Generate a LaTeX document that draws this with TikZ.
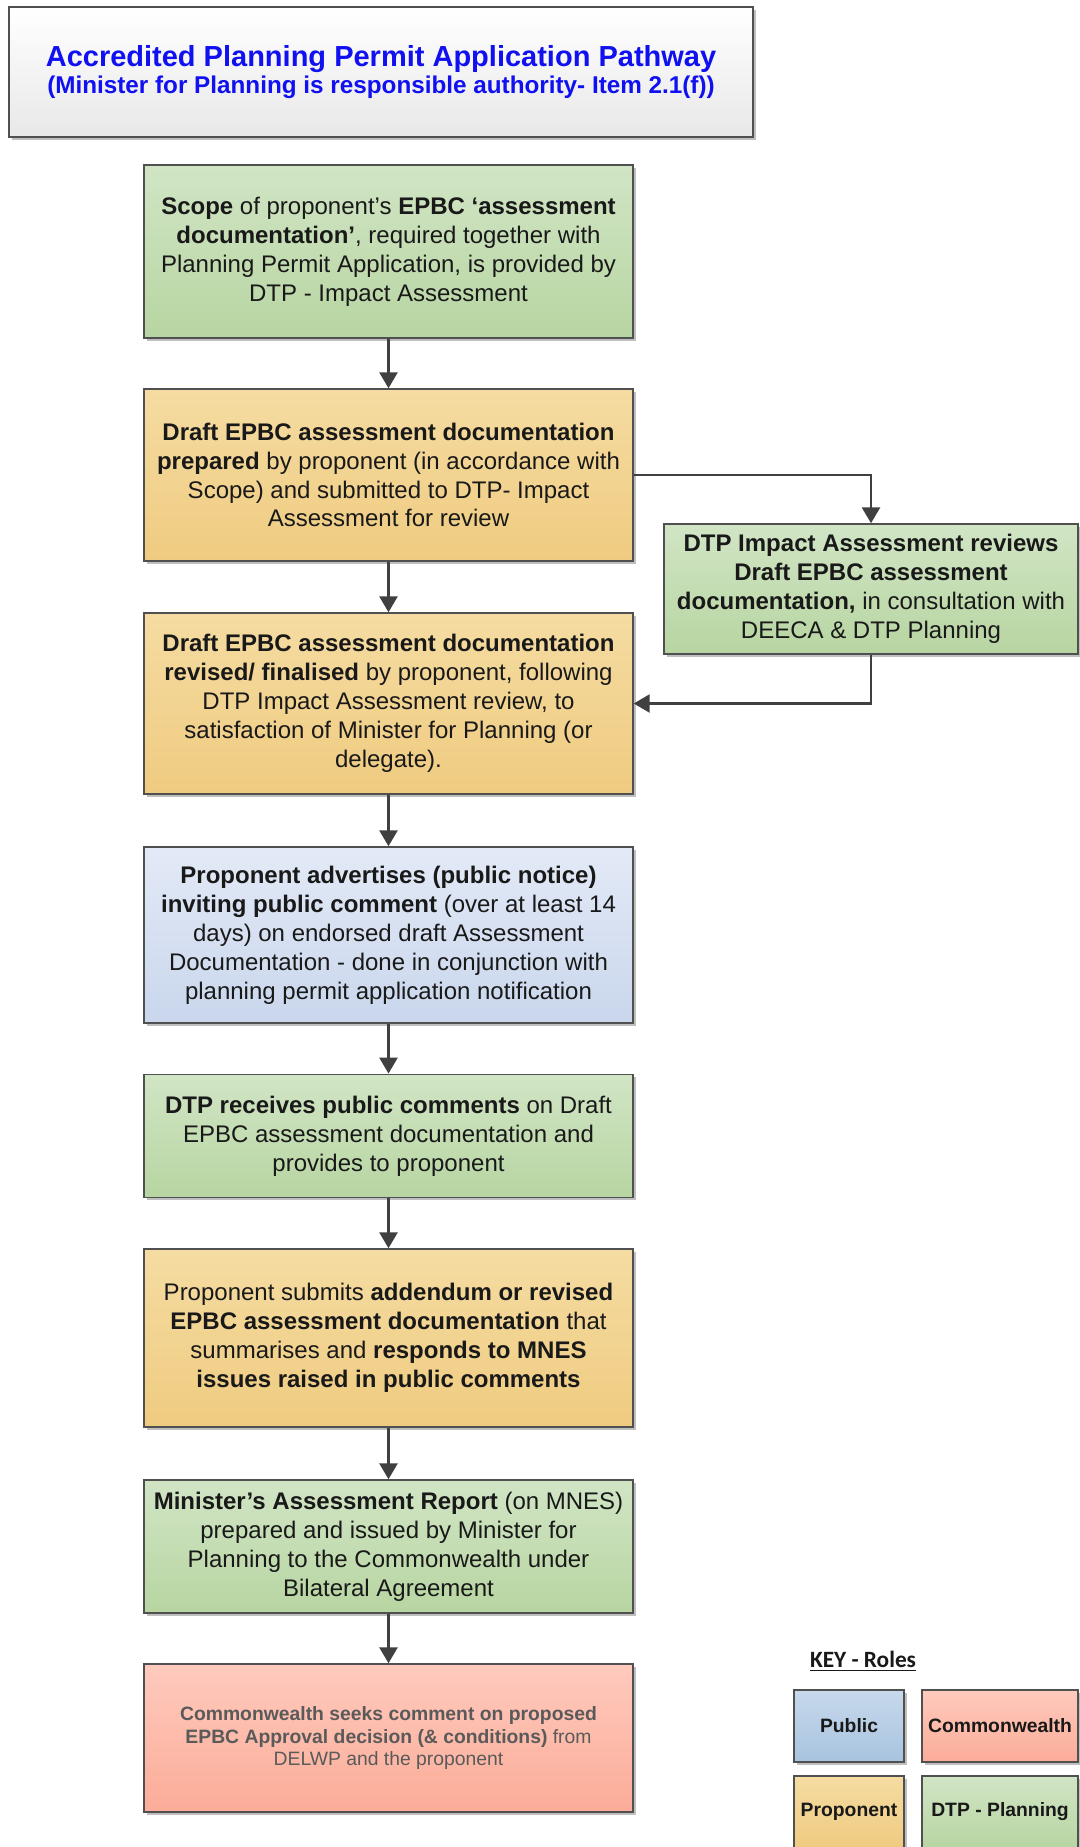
\documentclass[tikz,border=0pt]{standalone}
\usepackage{fontspec}
\setmainfont{Liberation Sans}
\newfontfamily\keyfont{Carlito}
\usepackage{tikz}
\usetikzlibrary{arrows.meta,shadows}
\definecolor{greentop}{HTML}{D1E5C5}
\definecolor{greenbot}{HTML}{B7D5A1}
\definecolor{orangetop}{HTML}{F5DCA2}
\definecolor{orangebot}{HTML}{EFCB80}
\definecolor{bluetop}{HTML}{E3EAF7}
\definecolor{bluebot}{HTML}{C9D6EC}
\definecolor{keybluetop}{HTML}{C7D9EB}
\definecolor{keybluebot}{HTML}{A8C3DF}
\definecolor{redtop}{HTML}{FFCABD}
\definecolor{redbot}{HTML}{FBAC98}
\definecolor{edge}{HTML}{505050}
\definecolor{arrowgrey}{HTML}{404040}
\definecolor{titleblue}{HTML}{1010F0}
\definecolor{cwtext}{HTML}{5A5A5A}
\tikzset{shade/.style={drop shadow={shadow xshift=2pt,shadow yshift=-2pt,fill=black,opacity=.25}},
  box/.style={draw=edge,line width=1.1pt,align=center,inner sep=1pt,minimum width=366.75pt,
    text=black!90,font=\fontsize{18}{21.7}\selectfont,shade},
  dtp/.style={box,top color=greentop,bottom color=greenbot},
  prop/.style={box,top color=orangetop,bottom color=orangebot},
  pub/.style={box,top color=bluetop,bottom color=bluebot},
  cw/.style={box,top color=redtop,bottom color=redbot},
  keybox/.style={draw=edge,line width=1.1pt,minimum height=54pt,inner sep=1pt,
    text=black!90,font=\fontsize{14.5}{17}\selectfont\bfseries,shade},
  flow/.style={draw=arrowgrey,line width=2.1pt,-{Triangle[width=13.5pt,length=12pt]}}}
\begin{document}
\begin{tikzpicture}[x=0.75pt,y=-0.75pt]
                \useasboundingbox[fill=white] (0,0) rectangle (1080,1847);
                \node[draw=edge,line width=1.1pt,top color=white,bottom color=black!9,shade,
                    minimum width=558pt,minimum height=97.5pt,align=center,text=titleblue,
                    font=\fontsize{18.2}{19.9}\selectfont\bfseries] (title) at (381,72)
                    {{\fontsize{21.75}{19.9}\selectfont Accredited Planning Permit Application Pathway}\\
                     (Minister for Planning is responsible authority- Item 2.1(f))};
                \node[dtp,minimum height=129.75pt] (scope) at (388.5,251.5)
                    {\textbf{Scope} of proponent’s \textbf{EPBC ‘assessment}\\
                     \textbf{documentation’}, required together with\\
                     Planning Permit Application, is provided by\\
                     DTP - Impact Assessment};
                \node[prop,minimum height=129pt] (draft) at (388.5,475)
                    {\textbf{Draft EPBC assessment documentation}\\
                     \textbf{prepared} by proponent (in accordance with\\
                     Scope) and submitted to DTP- Impact\\
                     Assessment for review};
                \node[dtp,minimum width=310.5pt,minimum height=97.5pt] (review) at (871,589)
                    {\textbf{DTP Impact Assessment reviews}\\
                     \textbf{Draft EPBC assessment}\\
                     \textbf{documentation,} in consultation with\\
                     DEECA \& DTP Planning};
                \node[prop,minimum height=135.75pt] (revised) at (388.5,703.5)
                    {\textbf{Draft EPBC assessment documentation}\\
                     \textbf{revised/ finalised} by proponent, following\\
                     DTP Impact Assessment review, to\\
                     satisfaction of Minister for Planning (or\\
                     delegate).};
                \node[pub,minimum height=132pt] (advert) at (388.5,935)
                    {\textbf{Proponent advertises (public notice)}\\
                     \textbf{inviting public comment} (over at least 14\\
                     days) on endorsed draft Assessment\\
                     Documentation - done in conjunction with\\
                     planning permit application notification};
                \node[dtp,minimum height=92.6pt] (receive) at (388.5,1136)
                    {\textbf{DTP receives public comments} on Draft\\
                     EPBC assessment documentation and\\
                     provides to proponent};
                \node[prop,minimum height=133.5pt] (addendum) at (388.5,1338)
                    {Proponent submits \textbf{addendum or revised}\\
                     \textbf{EPBC assessment documentation} that\\
                     summarises and \textbf{responds to MNES}\\
                     \textbf{issues raised in public comments}};
                \node[dtp,minimum height=99.75pt] (report) at (388.5,1546.5)
                    {\textbf{Minister’s Assessment Report} (on MNES)\\
                     prepared and issued by Minister for\\
                     Planning to the Commonwealth under\\
                     Bilateral Agreement};
                \node[cw,minimum height=111pt,text=cwtext,font=\fontsize{14.5}{16.9}\selectfont] (cwlth) at (388.5,1738)
                    {\textbf{Commonwealth seeks comment on proposed}\\
                     \textbf{EPBC Approval decision (\& conditions)} from\\
                     DELWP and the proponent};
                \draw[flow] (scope) -- (draft);
                \draw[flow] (draft) -- (revised);
                \draw[flow] (draft.east) -| (review.north);
                \draw[flow] (review.south) |- (revised.east);
                \draw[flow] (revised) -- (advert);
                \draw[flow] (advert) -- (receive);
                \draw[flow] (receive) -- (addendum);
                \draw[flow] (addendum) -- (report);
                \draw[flow] (report) -- (cwlth);
                \node[font=\keyfont\fontsize{17.5}{20}\selectfont\bfseries,text=black!90] (keyhead) at (863,1661) {\underline{KEY - Roles}};
                \node[keybox,minimum width=82.5pt,top color=keybluetop,bottom color=keybluebot] (kpublic) at (849,1726) {Public};
                \node[keybox,minimum width=117pt,top color=redtop,bottom color=redbot] (kcwlth) at (1000,1726) {Commonwealth};
                \node[keybox,minimum width=82.5pt,top color=orangetop,bottom color=orangebot] (kprop) at (849,1812) {Proponent};
                \node[keybox,minimum width=117pt,top color=greentop,bottom color=greenbot] (kdtp) at (1000,1812) {DTP - Planning};
            \end{tikzpicture}
\end{document}
